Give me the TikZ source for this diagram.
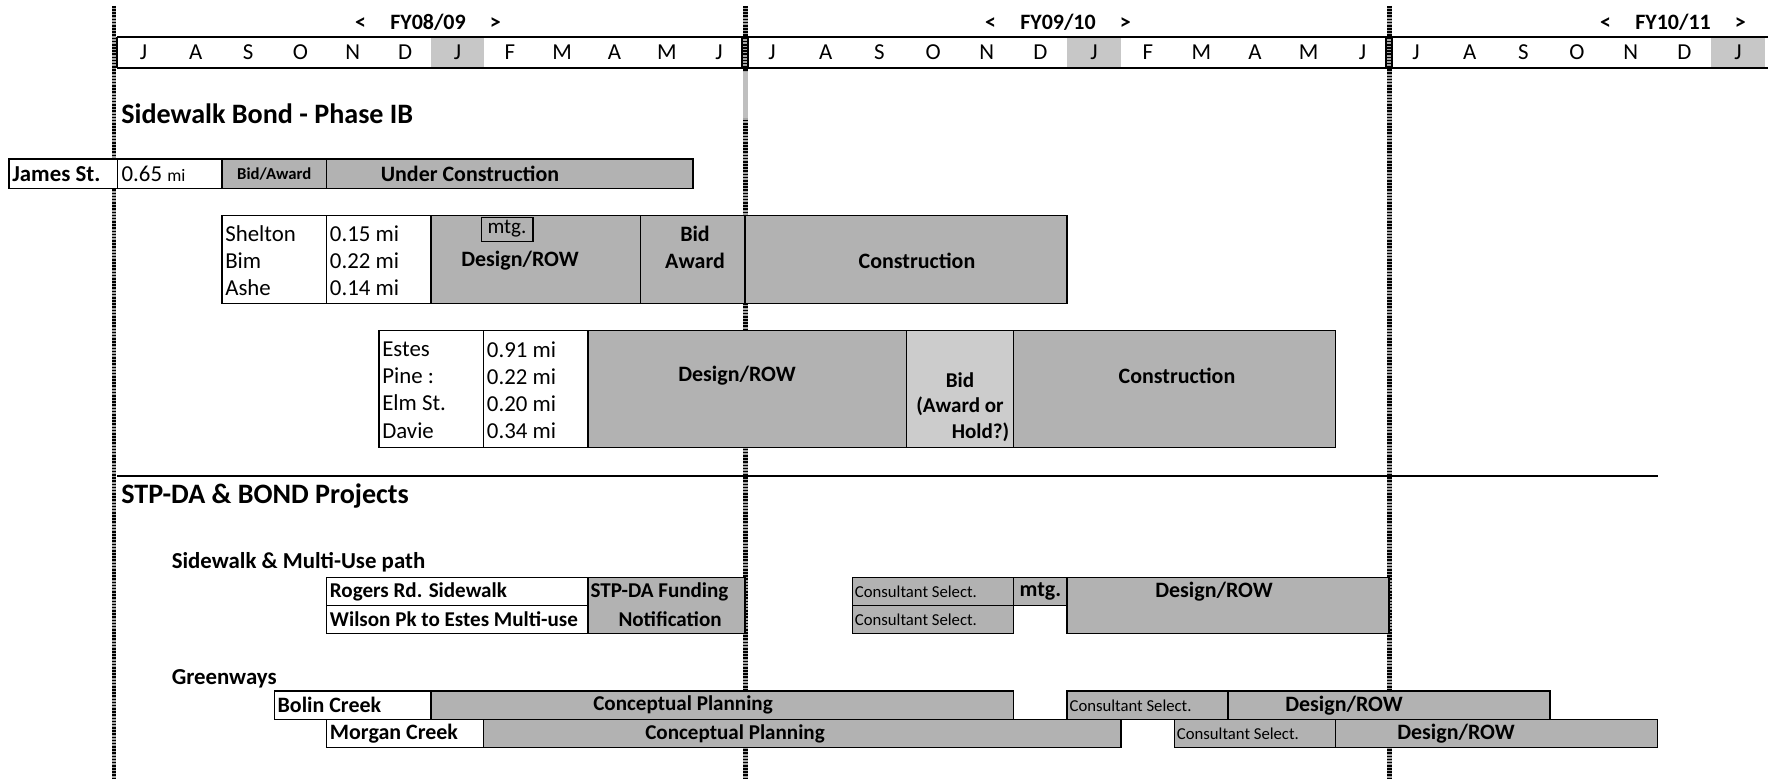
\documentclass[tikz,border=0pt]{standalone}
\usepackage{fontspec}
\setmainfont{Carlito}
\usetikzlibrary{calc}
% month index -> x (px), one fiscal year = 12 months
\pgfmathdeclarefunction{mx}{1}{\pgfmathparse{#1<=12 ? 117.3+52.33*#1 : 745.3+53.66*(#1-12)}}
\tikzset{PHASE/.style={draw, line width=0.9pt, fill=black!30}}
\tikzset{LIGHTPHASE/.style={draw, line width=0.9pt, fill=black!20}}
\tikzset{CELL/.style={draw, line width=0.9pt, fill=white}}
\tikzset{HEAD/.style={line width=1.3pt}}
\tikzset{FYBAND/.style={line width=2.6pt, black!35}}
\tikzset{FYDOTS/.style={line width=2.6pt, black, dash pattern=on 0.9pt off 0.9pt}}
\tikzset{BIGTXT/.style={font=\fontsize{16}{18}\selectfont\bfseries, anchor=west, inner sep=0pt}}
\tikzset{SUBTXT/.style={font=\fontsize{13}{15}\selectfont\bfseries, anchor=west, inner sep=0pt}}
\tikzset{TXT/.style={font=\fontsize{13}{15.4}\selectfont, inner sep=0pt, align=left}}
\tikzset{BTXT/.style={font=\fontsize{12.5}{15.4}\selectfont\bfseries, inner sep=0pt, align=center}}
\tikzset{ROWTXT/.style={font=\fontsize{12}{14}\selectfont\bfseries, inner sep=0pt, anchor=west}}
\tikzset{SMALLTXT/.style={font=\fontsize{9.5}{11}\selectfont, inner sep=0pt, anchor=west}}
\tikzset{MONTH/.style={font=\fontsize{13}{15}\selectfont, inner sep=0pt}}
\tikzset{FYTXT/.style={font=\fontsize{12.5}{15}\selectfont\bfseries, inner sep=0pt}}
\newcommand{\gbox}[5]{\draw[#1] ({mx(#2)},#4) rectangle ({mx(#3)},#5);}

\begin{document}
\begin{tikzpicture}[x=0.02cm, y=-0.02cm]
    \useasboundingbox (0,0) rectangle (1768,783);

    % fiscal year lines
    \foreach \xx in {114,745.3,1389.2} {
        \draw[FYBAND] (\xx,6) -- (\xx,778);
        \draw[FYDOTS] (\xx,6) -- (\xx,778);
    }
    \draw[line width=2.6pt, black!25] (745.3,72) -- (745.3,118);

    % month header
    \foreach \i in {6,18,30} \fill[black!22] ({mx(\i)},37.2) rectangle ({mx(\i+1)},67.7);
    \draw[HEAD] ({mx(0)},37.2) -- (1768,37.2) ({mx(0)},67.7) -- (1768,67.7) ({mx(0)},37.2) -- ({mx(0)},67.7);
    \foreach \i in {12,24} \draw[HEAD] ({mx(\i)-3},37.2) rectangle ({mx(\i)+3},67.7);
    \foreach \lab [count=\i from 0] in {J,A,S,O,N,D,J,F,M,A,M,J,J,A,S,O,N,D,J,F,M,A,M,J,J,A,S,O,N,D,J}
        \node[MONTH] (n_m\i) at ({(mx(\i)+mx(\i+1))/2},52.4) {\lab};
    \node[FYTXT] (n_fy1) at (428,22.6) {<\hspace{1.1em}FY08/09\hspace{1.1em}>};
    \node[FYTXT] (n_fy2) at (1058,22.6) {<\hspace{1.1em}FY09/10\hspace{1.1em}>};
    \node[FYTXT] (n_fy3) at (1673,22.6) {<\hspace{1.1em}FY10/11\hspace{1.1em}>};

    % Sidewalk Bond - Phase IB
    \node[BIGTXT] (n_bond) at (121,113.9) {Sidewalk Bond - Phase IB};

    \draw[CELL] (9,159) rectangle ({mx(0)},188.3);
    \gbox{CELL}{0}{2}{159}{188.3}
    \gbox{PHASE}{2}{4}{159}{188.3}
    \gbox{PHASE}{4}{11}{159}{188.3}
    \node[BTXT, font=\fontsize{13}{15}\selectfont\bfseries, anchor=west] (n_james) at (12,173.6) {James St.};
    \node[TXT, anchor=west] (n_james_mi) at ({mx(0)+4},173.6) {0.65 {\fontsize{10}{12}\selectfont mi}};
    \node[BTXT, font=\fontsize{9.5}{11}\selectfont\bfseries] (n_james_bid) at ({(mx(2)+mx(4))/2},173.6) {Bid/Award};
    \node[BTXT] (n_james_con) at (470,173.6) {Under Construction};

    \gbox{CELL}{2}{4}{215.4}{303.3}
    \gbox{CELL}{4}{6}{215.4}{303.3}
    \gbox{PHASE}{6}{10}{215.4}{303.3}
    \gbox{PHASE}{10}{12}{215.4}{303.3}
    \gbox{PHASE}{12}{18}{215.4}{303.3}
    \draw[line width=0.9pt] ({mx(7)-2},217.6) rectangle ({mx(8)-3},241.3);
    \node[TXT, anchor=west] (n_shelton) at ({mx(2)+3},260.5) {Shelton\\Bim\\Ashe};
    \node[TXT, anchor=west] (n_shelton_mi) at ({mx(4)+3},260.5) {0.15 mi\\0.22 mi\\0.14 mi};
    \node[TXT, font=\fontsize{12}{14}\selectfont] (n_shelton_mtg) at (507,229) {mtg.};
    \node[BTXT] (n_shelton_des) at (520,260.5) {Design/ROW};
    \node[BTXT] (n_shelton_bid) at (695,247) {Bid\\Award};
    \node[BTXT] (n_shelton_con) at (917,260.5) {Construction};

    \gbox{CELL}{5}{7}{330.4}{447.7}
    \gbox{CELL}{7}{9}{330.4}{447.7}
    \gbox{PHASE}{9}{15}{330.4}{447.7}
    \gbox{LIGHTPHASE}{15}{17}{330.4}{447.7}
    \gbox{PHASE}{17}{23}{330.4}{447.7}
    \node[TXT, anchor=west] (n_estes) at ({mx(5)+3},390.2) {Estes\\Pine :\\Elm St.\\Davie};
    \node[TXT, anchor=west] (n_estes_mi) at ({mx(7)+3},390.2) {0.91 mi\\0.22 mi\\0.20 mi\\0.34 mi};
    \node[BTXT] (n_estes_des) at (737,375.5) {Design/ROW};
    \node[BTXT, font=\fontsize{12}{14}\selectfont\bfseries] (n_estes_bid) at ({(mx(15)+mx(17))/2},380) {Bid};
    \node[BTXT, font=\fontsize{12}{14}\selectfont\bfseries] (n_estes_aw) at ({(mx(15)+mx(17))/2},406) {(Award or};
    \node[BTXT, font=\fontsize{12}{14}\selectfont\bfseries, anchor=east] (n_estes_hold) at ({mx(17)-4},432) {Hold?)};
    \node[BTXT] (n_estes_con) at (1177,375.5) {Construction};

    \draw[line width=1pt] ({mx(0)},475.8) -- ({mx(29)},475.8);

    % STP-DA & BOND Projects
    \node[BIGTXT] (n_stpda) at (121,496.1) {STP-DA \& BOND Projects};
    \node[SUBTXT] (n_walk) at (171.4,562.7) {Sidewalk \& Multi-Use path};

    \gbox{CELL}{4}{9}{577.3}{605.5}
    \gbox{CELL}{4}{9}{605.5}{633.7}
    \gbox{PHASE}{9}{12}{577.3}{633.7}
    \gbox{PHASE}{14}{17}{577.3}{605.5}
    \gbox{PHASE}{14}{17}{605.5}{633.7}
    \gbox{PHASE}{17}{18}{577.3}{605.5}
    \gbox{PHASE}{18}{24}{577.3}{633.7}
    \node[ROWTXT] (n_rogers) at ({mx(4)+3},591.4) {Rogers Rd. Sidewalk};
    \node[ROWTXT] (n_wilson) at ({mx(4)+3},619.6) {Wilson Pk to Estes Multi-use};
    \node[ROWTXT] (n_stp) at ({mx(9)+2},591.4) {STP-DA Funding};
    \node[ROWTXT, anchor=east] (n_notif) at (722,619.6) {Notification};
    \node[SMALLTXT] (n_rogers_cs) at ({mx(14)+2},591.4) {Consultant Select.};
    \node[SMALLTXT] (n_wilson_cs) at ({mx(14)+2},619.6) {Consultant Select.};
    \node[BTXT] (n_rogers_mtg) at ({(mx(17)+mx(18))/2},591.4) {mtg.};
    \node[BTXT] (n_rogers_des) at (1214,591.4) {Design/ROW};

    \node[SUBTXT] (n_green) at (171.4,678.8) {Greenways};

    \gbox{CELL}{3}{6}{691.2}{719.4}
    \gbox{PHASE}{6}{17}{691.2}{719.4}
    \gbox{PHASE}{18}{21}{691.2}{719.4}
    \gbox{PHASE}{21}{27}{691.2}{719.4}
    \gbox{CELL}{4}{7}{719.4}{747.6}
    \gbox{PHASE}{7}{19}{719.4}{747.6}
    \gbox{PHASE}{20}{23}{719.4}{747.6}
    \gbox{PHASE}{23}{29}{719.4}{747.6}
    \node[ROWTXT, font=\fontsize{12.5}{14}\selectfont\bfseries] (n_bolin) at ({mx(3)+3},705.3) {Bolin Creek};
    \node[BTXT, font=\fontsize{12}{14}\selectfont\bfseries] (n_bolin_cp) at (683,705.3) {Conceptual Planning};
    \node[SMALLTXT] (n_bolin_cs) at ({mx(18)+2},705.3) {Consultant Select.};
    \node[BTXT] (n_bolin_des) at (1344,705.3) {Design/ROW};
    \node[ROWTXT, font=\fontsize{12.5}{14}\selectfont\bfseries] (n_morgan) at ({mx(4)+3},733.5) {Morgan Creek};
    \node[BTXT, font=\fontsize{12}{14}\selectfont\bfseries] (n_morgan_cp) at (735,733.5) {Conceptual Planning};
    \node[SMALLTXT] (n_morgan_cs) at ({mx(20)+2},733.5) {Consultant Select.};
    \node[BTXT] (n_morgan_des) at (1456,733.5) {Design/ROW};
\end{tikzpicture}
\end{document}
